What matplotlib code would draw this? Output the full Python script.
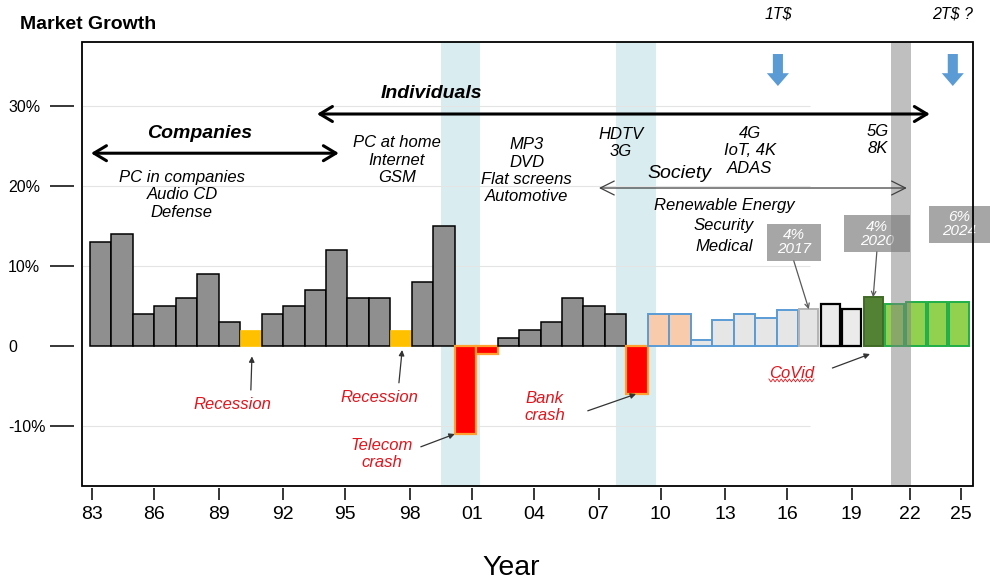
"""
Market growth per year, 1983-2023, with the technology waves and crises.
"""

import matplotlib.pyplot as plt
import numpy as np
from matplotlib.patches import FancyArrow, Rectangle

plt.rcParams['font.family'] = ['Liberation Sans', 'DejaVu Sans']

# Yearly market growth (%)
YEARS = list(range(1983, 2024))
GROWTH = [13, 14, 4, 5, 6, 9, 3, 2, 4, 5, 7, 12, 6, 6, 2, 8, 15, -11, -1,
          1, 2, 3, 6, 5, 4, -6, 4, 4, 0.8, 3.3, 4, 3.5, 4.5, 4.6, 5.3, 4.6,
          6.1, 5.3, 5.5, 5.5, 5.5]
KIND = (['grey'] * 7 + ['recession'] + ['grey'] * 6 + ['recession']
        + ['grey'] * 2 + ['crash'] * 2 + ['grey'] * 6 + ['crash']
        + ['peach'] * 2 + ['light'] * 5 + ['pale', 'outline', 'outline', 'covid']
        + ['green'] * 4)

TICK_POS = [1983.1, 1986.0, 1989.0, 1992.0, 1994.9, 1997.9, 2000.8, 2003.7,
            2006.7, 2009.6, 2012.6, 2015.5, 2018.5, 2021.2, 2023.6]
TICK_LABELS = ['83', '86', '89', '92', '95', '98', '01', '04', '07', '10',
               '13', '16', '19', '22', '25']
Y_TICKS = [30, 20, 10, 0, -10]
Y_LABELS = ['30%', '20%', '10%', '0', '-10%']

CRISIS_BANDS = [(1999.36, 2001.17), (2007.51, 2009.37)]
COVID_BAND = (2020.33, 2021.26)

BAR_STYLE = {
    'grey': ('#8f8f8f', 'black', 1.1),
    'recession': ('#ffc000', '#ffc000', 0.5),
    'crash': ('#ff0000', '#ffa030', 1.6),
    'peach': ('#f8cbad', '#5b9bd5', 1.4),
    'light': ('#e7e6e6', '#5b9bd5', 1.4),
    'pale': ('#e4e4e4', '#b4b4b4', 1.4),
    'outline': ('#ebebeb', 'black', 1.6),
    'covid': ('#548235', '#3f6b26', 1.4),
    'green': ('#92d050', '#1fae48', 1.4),
}

RED = '#e3141c'
XMIN, XMAX = 1982.63, 2024.15

fig = plt.figure(figsize=(9.9, 5.81), dpi=100)
ax = fig.add_axes([0.0828, 0.1635, 0.9, 0.7642])
ax.set_xlim(XMIN, XMAX)
ax.set_ylim(-17.5, 38)

# background bands and faint grid
for x0, x1 in CRISIS_BANDS:
    ax.axvspan(x0, x1, color='#d9edf0', lw=0, zorder=0.3)
ax.hlines([30, 20, 10, -10], XMIN, 2016.55, color='#e4e4e4', lw=0.8, zorder=0.5)

# bars
for i, (year, val, kind) in enumerate(zip(YEARS, GROWTH, KIND)):
    face, edge, lw = BAR_STYLE[kind]
    width = 1.0 if i < 33 else 0.9
    ax.bar(year + 0.5, val, width=width, color=face, edgecolor=edge,
           linewidth=lw, zorder=2)

ax.axvspan(*COVID_BAND, color='#808080', alpha=0.5, lw=0, zorder=3.5)

# axes frame and ticks
ax.spines['left'].set_position(('outward', 5.8))
ax.spines['bottom'].set_position(('outward', 1.5))
for sp in ax.spines.values():
    sp.set_visible(False)
ax.add_patch(Rectangle((0, 0), 1, 1, transform=ax.transAxes, fill=False,
                       ec='black', lw=1.3, zorder=6, clip_on=False))

ax.set_xticks(TICK_POS, TICK_LABELS)
ax.tick_params(axis='x', direction='out', length=8.6, width=1.1, pad=4,
               labelsize=14)
ax.set_yticks(Y_TICKS, Y_LABELS)
ax.tick_params(axis='y', direction='out', length=17.3, width=1.1, pad=30,
               labelsize=11.5)
for t in ax.get_yticklabels():
    t.set_horizontalalignment('left')


def span_arrow(x0, x1, y, lw, color, hl, hw, scale=20):
    ax.annotate('', xy=(x1, y), xytext=(x0, y), zorder=5,
                arrowprops=dict(arrowstyle=f'<->,head_length={hl},head_width={hw}',
                                lw=lw, color=color, mutation_scale=scale,
                                shrinkA=0, shrinkB=0))


def pointer(start, target, color='#333333', style='-|>', lw=0.9):
    ax.annotate('', xy=target, xytext=start, zorder=5,
                arrowprops=dict(arrowstyle=style, color=color, lw=lw,
                                mutation_scale=8, shrinkA=0, shrinkB=0))


# market eras
span_arrow(1983.05, 1994.6, 24.1, 2.2, 'black', 0.45, 0.27)
span_arrow(1993.58, 2022.14, 29.0, 2.2, 'black', 0.45, 0.27)
span_arrow(2006.72, 2021.07, 19.75, 0.9, '#404040', 0.5, 0.25)

bold_it = dict(ha='center', va='center', fontsize=14, fontweight='bold',
               style='italic', zorder=5)
ax.text(1988.13, 26.6, 'Companies', **bold_it)
ax.text(1998.9, 31.6, 'Individuals', **bold_it)
ax.text(2010.45, 21.6, 'Society', ha='center', va='center', fontsize=14,
        style='italic', zorder=5)

tech = dict(ha='center', va='center', fontsize=12, style='italic',
            linespacing=1.2, zorder=5)
ax.text(1987.29, 18.9, 'PC in companies\nAudio CD\nDefense', **tech)
ax.text(1997.3, 23.25, 'PC at home\nInternet\nGSM', **tech)
ax.text(2003.36, 21.9, 'MP3\nDVD\nFlat screens\nAutomotive', **tech)
ax.text(2007.74, 25.4, 'HDTV\n3G', **tech)
ax.text(2013.75, 24.4, '4G\nIoT, 4K\nADAS', **tech)
ax.text(2019.72, 25.75, '5G\n8K', **tech)
# society themes, one line each
for y, line in [(17.6, 'Renewable Energy'), (15.1, 'Security'),
                (12.5, 'Medical')]:
    ax.text(2012.55, y, line, **tech)

# market size milestones
for x, label in [(2015.06, '1T$'), (2023.21, '2T$ ?')]:
    ax.text(x, 41.5, label, ha='center', va='center', fontsize=11.5,
            style='italic', clip_on=False)
    ax.add_patch(FancyArrow(x, 36.5, 0, -4.0, width=0.47, head_width=1.03,
                            head_length=1.6, length_includes_head=True,
                            color='#5b9bd5', lw=0, zorder=5, clip_on=False))

# growth call-outs
for xc, yc, w, text in [(2015.8, 12.94, 2.52, '4%\n2017'),
                        (2019.67, 14.06, 3.08, '4%\n2020'),
                        (2023.52, 15.19, 2.84, '6%\n2024')]:
    ax.add_patch(Rectangle((xc - w / 2, yc - 2.3), w, 4.6, fc='#a6a6a6',
                           ec='none', zorder=3, clip_on=False))
    ax.text(xc, yc, text, ha='center', va='center', color='white',
            fontsize=11, style='italic', linespacing=1.0, zorder=3.1)
pointer((2015.8, 10.64), (YEARS[33] + 0.5, GROWTH[33]), color='#595959',
        style='->')
pointer((2019.67, 11.76), (YEARS[36] + 0.5, GROWTH[36]), color='#595959',
        style='->')

# crises
red = dict(ha='center', va='center', fontsize=12, style='italic', color=RED,
           linespacing=1.2, zorder=5)
ax.text(1989.62, -7.25, 'Recession', **red)
pointer((1990.5, -5.5), (YEARS[7] + 0.55, -1.3))
ax.text(1996.5, -6.4, 'Recession', **red)
pointer((1997.4, -4.6), (YEARS[14] + 0.55, -0.5))
ax.text(1996.6, -13.5, 'Telecom\ncrash', **red)
pointer((1998.42, -12.6), (YEARS[17], GROWTH[17]))
ax.text(2004.2, -7.6, 'Bank\ncrash', **red)
pointer((2006.2, -8.1), (YEARS[25] + 0.45, GROWTH[25]))
ax.text(2015.7, -3.4, 'CoVid', **red)
pointer((2017.6, -2.75), (YEARS[36] + 0.35, -1.0))

# spell-check squiggle under "CoVid"
sq_x = np.linspace(2014.64, 2016.74, 23)
sq_y = -4.3 + 0.18 * (-1) ** np.arange(len(sq_x))
ax.plot(sq_x, sq_y, color=RED, lw=0.6, zorder=5)

fig.text(0.0202, 0.957, 'Market Growth', fontsize=14, fontweight='bold',
         va='center')
fig.text(0.516, 0.0103, 'Year', fontsize=20.5, ha='center', va='baseline')

fig.savefig('out.png', dpi=100)
plt.close(fig)
